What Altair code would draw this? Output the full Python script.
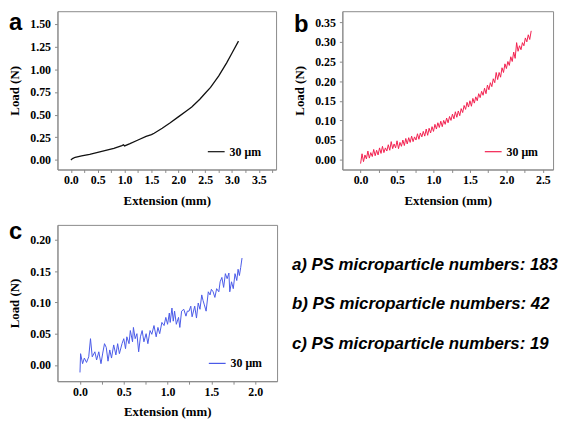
import altair as alt
import pandas as pd

# ---------------- data ----------------
# panel a (183 microparticles) - smooth curve
a_x = [0.00, 0.03, 0.08, 0.20, 0.35, 0.50, 0.65, 0.80, 0.95, 0.98, 1.00, 1.10,
       1.25, 1.40, 1.50, 1.55, 1.70, 1.85, 2.00, 2.15, 2.25, 2.40, 2.50, 2.60,
       2.75, 2.90, 3.00, 3.12]
a_y = [0.000, 0.015, 0.030, 0.045, 0.062, 0.083, 0.105, 0.128, 0.158, 0.168, 0.155, 0.180,
       0.220, 0.260, 0.280, 0.295, 0.350, 0.410, 0.475, 0.540, 0.585, 0.670, 0.735, 0.800,
       0.925, 1.070, 1.180, 1.310]

# panel b (42 microparticles) - noisy curve
b_x = [0.00, 0.02, 0.04, 0.06, 0.08, 0.10, 0.12, 0.14, 0.16, 0.18,
       0.20, 0.22, 0.24, 0.26, 0.28, 0.30, 0.32, 0.34, 0.36, 0.38,
       0.40, 0.42, 0.44, 0.46, 0.48, 0.50, 0.52, 0.54, 0.56, 0.58,
       0.60, 0.62, 0.64, 0.66, 0.68, 0.70, 0.72, 0.74, 0.76, 0.78,
       0.80, 0.82, 0.84, 0.86, 0.88, 0.90, 0.92, 0.94, 0.96, 0.98,
       1.00, 1.02, 1.04, 1.06, 1.08, 1.10, 1.12, 1.14, 1.16, 1.18,
       1.20, 1.22, 1.24, 1.26, 1.28, 1.30, 1.32, 1.34, 1.36, 1.38,
       1.40, 1.42, 1.44, 1.46, 1.48, 1.50, 1.52, 1.54, 1.56, 1.58,
       1.60, 1.62, 1.64, 1.66, 1.68, 1.70, 1.72, 1.74, 1.76, 1.78,
       1.80, 1.82, 1.84, 1.86, 1.88, 1.90, 1.92, 1.94, 1.96, 1.98,
       2.00, 2.02, 2.04, 2.06, 2.08, 2.10, 2.12, 2.14, 2.16, 2.18,
       2.20, 2.22, 2.24, 2.26, 2.28, 2.30, 2.32, 2.34]
b_y = [-0.010, 0.015, -0.005, 0.012, 0.002, 0.022, 0.004, 0.018, 0.008, 0.026,
       0.010, 0.024, 0.012, 0.030, 0.016, 0.034, 0.018, 0.030, 0.022, 0.038,
       0.024, 0.046, 0.028, 0.040, 0.030, 0.048, 0.028, 0.044, 0.034, 0.050,
       0.036, 0.054, 0.040, 0.056, 0.044, 0.060, 0.046, 0.058, 0.050, 0.066,
       0.052, 0.068, 0.058, 0.072, 0.060, 0.078, 0.062, 0.080, 0.068, 0.084,
       0.072, 0.090, 0.078, 0.094, 0.082, 0.098, 0.084, 0.100, 0.090, 0.106,
       0.094, 0.110, 0.100, 0.116, 0.104, 0.122, 0.108, 0.124, 0.112, 0.130,
       0.120, 0.138, 0.128, 0.146, 0.134, 0.150, 0.136, 0.156, 0.144, 0.160,
       0.150, 0.168, 0.158, 0.174, 0.164, 0.182, 0.168, 0.190, 0.178, 0.196,
       0.186, 0.206, 0.196, 0.222, 0.204, 0.222, 0.210, 0.234, 0.222, 0.244,
       0.232, 0.250, 0.240, 0.262, 0.250, 0.274, 0.258, 0.298, 0.276, 0.290,
       0.280, 0.298, 0.290, 0.310, 0.300, 0.318, 0.306, 0.328]

# panel c (19 microparticles) - noisy curve
c_x = [0.000, 0.007, 0.030, 0.050, 0.075, 0.100, 0.120, 0.140, 0.170, 0.190,
       0.215, 0.240, 0.260, 0.280, 0.300, 0.320, 0.340, 0.360, 0.385, 0.410,
       0.430, 0.450, 0.480, 0.500, 0.520, 0.535, 0.560, 0.575, 0.600, 0.610,
       0.630, 0.650, 0.670, 0.690, 0.710, 0.730, 0.755, 0.775, 0.800, 0.820,
       0.845, 0.870, 0.890, 0.910, 0.935, 0.960, 0.980, 1.000, 1.020, 1.030,
       1.050, 1.065, 1.080, 1.100, 1.125, 1.140, 1.160, 1.185, 1.210, 1.225,
       1.245, 1.265, 1.280, 1.310, 1.330, 1.350, 1.370, 1.390, 1.405, 1.420,
       1.440, 1.465, 1.485, 1.500, 1.520, 1.540, 1.560, 1.585, 1.600, 1.620,
       1.640, 1.660, 1.680, 1.700, 1.710, 1.730, 1.750, 1.770, 1.790, 1.805,
       1.820, 1.835, 1.850]
c_y = [-0.012, 0.018, 0.002, 0.011, 0.004, 0.013, 0.042, 0.013, 0.021, 0.008,
       0.021, 0.002, 0.019, 0.034, 0.028, 0.006, 0.024, 0.011, 0.032, 0.016,
       0.034, 0.018, 0.034, 0.042, 0.026, 0.045, 0.034, 0.055, 0.037, 0.060,
       0.042, 0.050, 0.021, 0.045, 0.055, 0.037, 0.050, 0.034, 0.055, 0.049,
       0.063, 0.045, 0.060, 0.050, 0.068, 0.063, 0.076, 0.065, 0.083, 0.068,
       0.091, 0.070, 0.086, 0.065, 0.076, 0.060, 0.086, 0.089, 0.078, 0.086,
       0.086, 0.094, 0.077, 0.094, 0.075, 0.099, 0.089, 0.112, 0.103, 0.096,
       0.086, 0.117, 0.112, 0.121, 0.117, 0.108, 0.122, 0.117, 0.133, 0.140,
       0.124, 0.146, 0.138, 0.147, 0.117, 0.133, 0.122, 0.146, 0.135, 0.153,
       0.143, 0.156, 0.171]

letters = ["a", "b", "c"]
colors = ["#111111", "#f2204f", "#4a5ae8"]
legend_label = "30 \u03bcm"
notes = ["a) PS microparticle numbers: 183",
         "b) PS microparticle numbers: 42",
         "c) PS microparticle numbers: 19"]

x_ticks_a = [0, 0.25, 0.5, 0.75, 1.0, 1.25, 1.5, 1.75, 2.0, 2.25, 2.5, 2.75, 3.0, 3.25, 3.5, 3.75]
x_ticks_b = [0, 0.25, 0.5, 0.75, 1.0, 1.25, 1.5, 1.75, 2.0, 2.25, 2.5]
x_ticks_c = [0, 0.25, 0.5, 0.75, 1.0, 1.25, 1.5, 1.75, 2.0]
y_ticks_a = [0, 0.25, 0.5, 0.75, 1.0, 1.25, 1.5]
y_ticks_b = [0, 0.05, 0.10, 0.15, 0.20, 0.25, 0.30, 0.35]
y_ticks_c = [0, 0.05, 0.10, 0.15, 0.20]

FRAME = "#8a8a8a"
dummy = pd.DataFrame({"k": [0]})


def panel(xs, ys, color, xdom, ydom, xticks, yticks, letter, letter_y, w, h, sw):
    df = pd.DataFrame({"x": xs, "y": ys})
    line = alt.Chart(df).mark_line(color=color, strokeWidth=sw, clip=True).encode(
        x=alt.X("x:Q", scale=alt.Scale(domain=xdom, nice=False, zero=False),
                axis=alt.Axis(values=xticks, title="Extension (mm)",
                              labelExpr="(datum.value*4) % 2 == 0 ? format(datum.value, '.1f') : ''")),
        y=alt.Y("y:Q", scale=alt.Scale(domain=ydom, nice=False, zero=False),
                axis=alt.Axis(values=yticks, format=".2f", title="Load (N)")),
    )
    rule = alt.Chart(dummy).mark_rule(color=color, strokeWidth=1.2).encode(
        x=alt.value(w - 69), x2=alt.value(w - 52), y=alt.value(h - 18))
    leg = alt.Chart(dummy).mark_text(align="left", baseline="middle", font="Liberation Serif",
                                     fontWeight="bold", fontSize=12, color="black").encode(
        x=alt.value(w - 47), y=alt.value(h - 18), text=alt.value(legend_label))
    let = alt.Chart(dummy).mark_text(align="left", baseline="alphabetic", font="Liberation Sans",
                                     fontWeight="bold", fontSize=24, color="black").encode(
        x=alt.value(-49), y=alt.value(letter_y), text=alt.value(letter))
    return alt.layer(line, rule, leg, let).properties(
        width=w, height=h, view=alt.ViewBackground(stroke=FRAME, strokeWidth=1))


pa = panel(a_x, a_y, colors[0], [-0.25, 3.82], [-0.105, 1.64], x_ticks_a, y_ticks_a,
           letters[0], 19, 221, 160, 1.3)
pb = panel(b_x, b_y, colors[1], [-0.25, 2.64], [-0.025, 0.378], x_ticks_b, y_ticks_b,
           letters[1], 21, 213, 160, 1.0)
pc = panel(c_x, c_y, colors[2], [-0.257, 2.25], [-0.026, 0.224], x_ticks_c, y_ticks_c,
           letters[2], 14, 222, 158, 1.0)

note_layers = []
for i, t in enumerate(notes):
    note_layers.append(
        alt.Chart(dummy).mark_text(align="left", baseline="middle", font="Liberation Sans",
                                   fontWeight="bold", fontStyle="italic", fontSize=17,
                                   color="black").encode(
            x=alt.value(9), y=alt.value(41 + 39.5 * i), text=alt.value(t)))
text_panel = alt.layer(*note_layers).properties(
    width=272, height=158, view=alt.ViewBackground(stroke="transparent"))

row1 = alt.hconcat(pa, pb, spacing=16)
row2 = alt.hconcat(pc, text_panel, spacing=4)
chart = alt.vconcat(row1, row2, spacing=11).properties(padding=0).configure_axis(
    grid=False,
    domainColor=FRAME,
    tickColor=FRAME,
    tickSize=3,
    labelFont="Liberation Serif",
    labelFontWeight="bold",
    labelFontSize=12,
    labelColor="black",
    titleFont="Liberation Serif",
    titleFontWeight="bold",
    titleFontSize=13,
    titleColor="black",
).configure_axisX(
    labelPadding=2,
    titlePadding=9,
).configure_axisY(
    labelPadding=4,
    titlePadding=8,
)

chart.save("out.html", embed_options={"renderer": "svg", "actions": False})
